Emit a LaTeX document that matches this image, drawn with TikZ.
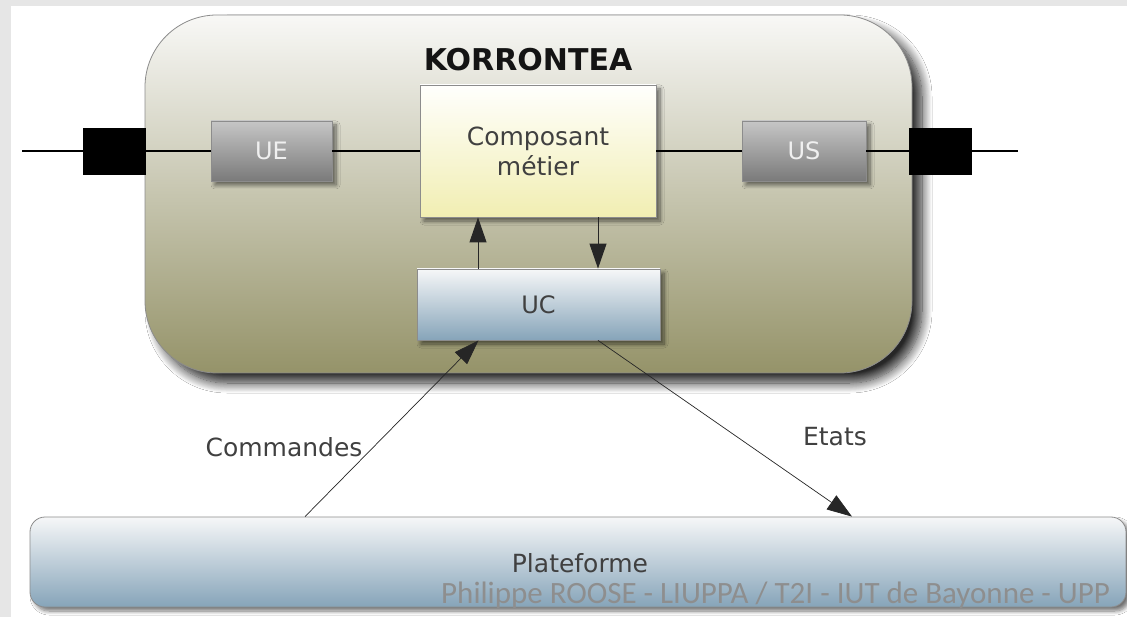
\documentclass[tikz,border=0pt]{standalone}
\usepackage{fontspec}
\setmainfont{DejaVu Sans}
\newfontfamily\footfont{Carlito}
\usetikzlibrary{shadows.blur,arrows.meta}
\definecolor{bggray}{HTML}{E6E6E6}
\definecolor{olivetop}{HTML}{F8F8F6}
\definecolor{olivebot}{HTML}{959369}
\definecolor{graytop}{HTML}{C6C6C6}
\definecolor{graybot}{HTML}{7A7A7A}
\definecolor{yeltop}{HTML}{FFFFFD}
\definecolor{yelbot}{HTML}{F1EEB2}
\definecolor{bluetop}{HTML}{F6F7F8}
\definecolor{bluebot}{HTML}{86A4B9}
\definecolor{edgegray}{HTML}{8C8C8C}
\definecolor{labelgray}{HTML}{404040}
\definecolor{footgray}{HTML}{8E8E8E}
\tikzset{
  softshadow/.style={blur shadow={shadow xshift=4pt, shadow yshift=-4pt, shadow blur radius=4pt, shadow blur steps=8, shadow opacity=55}},
  bigshadow/.style={blur shadow={shadow xshift=10pt, shadow yshift=-10pt, shadow blur radius=10pt, shadow blur steps=14, shadow opacity=85}},
  bigbox/.style={draw=edgegray, line width=0.8pt, rounded corners=72pt, top color=olivetop, bottom color=olivebot, inner sep=0pt, bigshadow},
  graybox/.style={draw=edgegray, line width=0.8pt, top color=graytop, bottom color=graybot, inner sep=0pt, text=white!94!black, font=\fontsize{24}{28}\selectfont, softshadow},
  yelbox/.style={draw=edgegray, line width=0.8pt, top color=yeltop, bottom color=yelbot, inner sep=0pt, text=labelgray, font=\fontsize{25}{30}\selectfont, align=center, softshadow},
  bluebox/.style={draw=edgegray, line width=0.8pt, top color=bluetop, bottom color=bluebot, inner sep=0pt, text=labelgray, font=\fontsize{24}{28}\selectfont, softshadow},
  port/.style={fill=black, draw=black, inner sep=0pt, minimum width=62pt, minimum height=46pt},
  wire/.style={line width=2pt, black},
  arr/.style={-{Triangle[length=25pt,width=17pt]}, line width=1pt, black!85},
  lbl/.style={text=labelgray, font=\fontsize{25}{30}\selectfont, inner sep=0pt},
}
\begin{document}
\begin{tikzpicture}[x=1pt,y=-1pt]
\useasboundingbox (0,0) rectangle (1127,617);
\fill[bggray] (0,0) rectangle (1127,617);
\fill[white] (11,6) rectangle (1127,617);

% main container
\node[bigbox, minimum width=767pt, minimum height=358pt] (kor) at (528.5,194) {};
\node[font=\bfseries\fontsize{30}{36}\selectfont, text=black!92, inner sep=0pt] (title) at (528,60) {KORRONTEA};

% ports and line
\coordinate (lin) at (22,151);
\coordinate (rout) at (1018,151);
\node[port] (lp) at (114.5,151) {};
\node[port] (rp) at (940,151) {};

\node[graybox, minimum width=121pt, minimum height=60pt] (ue) at (271.5,151) {UE};
\node[graybox, minimum width=124pt, minimum height=60pt] (us) at (804,151) {US};
\node[yelbox, minimum width=236pt, minimum height=132pt] (cm) at (538,151) {Composant\\métier};
\node[bluebox, minimum width=243pt, minimum height=71pt] (uc) at (538.5,304.5) {UC};

\draw[wire] (lin) -- (lp);
\draw[wire] (lp) -- (ue);
\draw[wire] (ue) -- (cm);
\draw[wire] (cm) -- (us);
\draw[wire] (us) -- (rp);
\draw[wire] (rp) -- (rout);

% platform
\node[bluebox, rounded corners=15pt, minimum width=1096pt, minimum height=90pt] (pl) at (578,562) {};
\node[lbl] (pltxt) at (580,563) {Plateforme};

% internal arrows
\draw[arr] ([xshift=-60.5pt]uc.north) -- ([xshift=-60pt]cm.south);
\draw[arr] ([xshift=60pt]cm.south) -- ([xshift=59.5pt]uc.north);

% external arrows
\draw[arr, line width=0.7pt] ([xshift=-273pt]pl.north) -- ([xshift=-60pt]uc.south);
\draw[arr, line width=0.7pt] ([xshift=59.5pt]uc.south) -- ([xshift=274pt]pl.north);
\node[lbl] (cmd) at (284,447) {Commandes};
\node[lbl] (eta) at (835,437) {Etats};

% footer
\node[anchor=base west, inner sep=0pt, text=footgray, font=\footfont\fontsize{31}{36}\selectfont] (foot) at (441,603) {Philippe ROOSE - LIUPPA / T2I - IUT de Bayonne - UPP};
\end{tikzpicture}
\end{document}
